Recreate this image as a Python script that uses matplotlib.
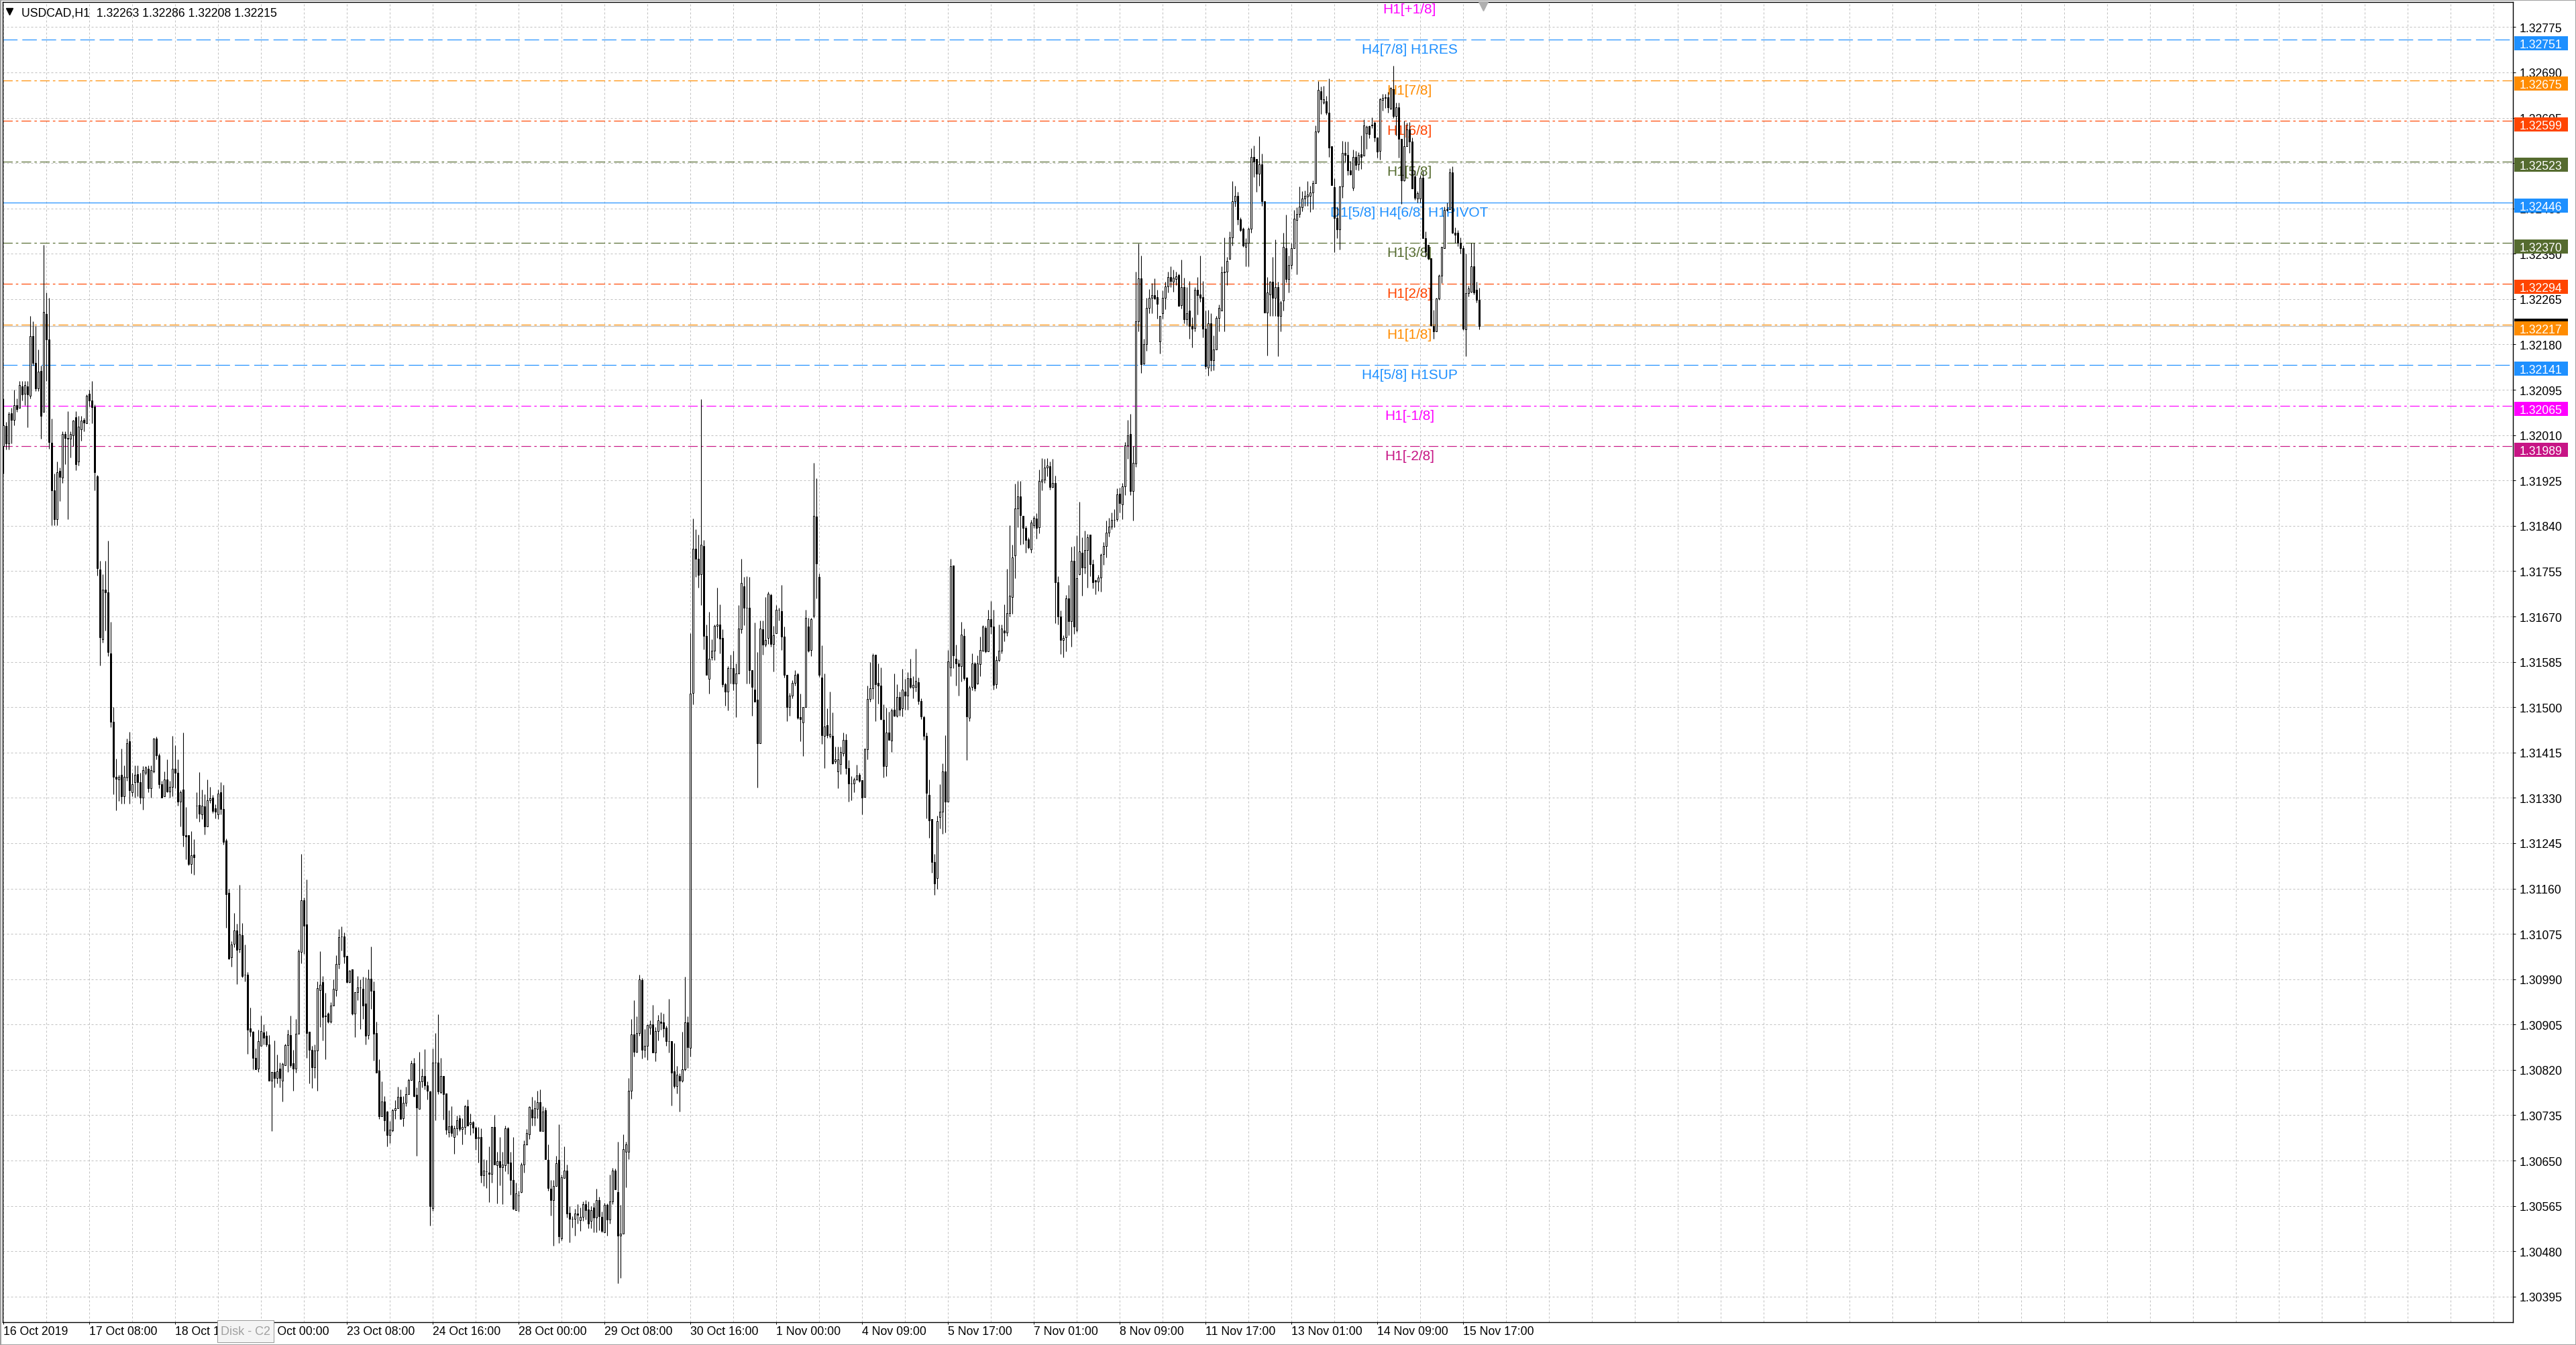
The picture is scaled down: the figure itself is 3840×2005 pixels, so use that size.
import numpy as np
import matplotlib
matplotlib.use("Agg")
import matplotlib.pyplot as plt
import matplotlib.transforms as mtransforms
from matplotlib.patches import Rectangle

plt.rcParams['font.family'] = ['Liberation Sans', 'DejaVu Sans']

symbol = "USDCAD,H1"
base = 1.30000   # candle values below are points (0.00001) above this

opens = [
    1989, 2027, 1994, 2051, 2039, 2066, 2061, 2102, 2088, 2102,
    2084, 2196, 2145, 2098, 2130, 2053, 2237, 2190, 1996, 1907,
    1852, 1943, 1930, 2012, 2004, 2003, 2010, 2043, 1960, 2021,
    2038, 2032, 2087, 2075, 2064, 1933, 1758, 1627, 1720, 1715,
    1601, 1472, 1369, 1364, 1373, 1333, 1368, 1436, 1341, 1359,
    1375, 1359, 1331, 1377, 1385, 1348, 1380, 1441, 1410, 1355,
    1333, 1364, 1342, 1351, 1384, 1377, 1323, 1346, 1260, 1260,
    1206, 1223, 1315, 1316, 1299, 1314, 1277, 1325, 1330, 1310,
    1299, 1341, 1309, 1250, 1152, 1031, 1056, 1082, 1046, 1073,
    998, 999, 898, 892, 842, 822, 865, 890, 884, 868,
    800, 816, 805, 822, 800, 829, 866, 885, 833, 822,
    888, 1041, 1138, 1093, 891, 858, 825, 856, 970, 985,
    920, 926, 910, 940, 970, 1018, 1070, 1070, 1034, 984,
    1009, 926, 966, 975, 972, 944, 885, 991, 968, 889,
    818, 733, 761, 742, 698, 707, 745, 748, 770, 729,
    758, 774, 801, 833, 773, 747, 799, 808, 791, 780,
    561, 834, 834, 778, 808, 776, 703, 716, 694, 710,
    729, 709, 713, 752, 718, 722, 712, 692, 694, 623,
    630, 628, 625, 713, 641, 649, 637, 641, 710, 646,
    613, 557, 585, 591, 642, 680, 699, 746, 731, 747,
    759, 705, 744, 651, 597, 576, 602, 651, 504, 618,
    631, 552, 541, 541, 551, 538, 545, 568, 558, 537,
    562, 543, 576, 545, 515, 567, 540, 574, 631, 591,
    509, 513, 667, 667, 781, 886, 854, 889, 989, 858,
    865, 899, 906, 852, 893, 911, 909, 899, 874, 874,
    817, 790, 809, 800, 821, 909, 861, 1527, 1797, 1778,
    1749, 1802, 1634, 1553, 1593, 1606, 1653, 1655, 1630, 1543,
    1529, 1573, 1573, 1544, 1563, 1646, 1726, 1686, 1686, 1569,
    1533, 1514, 1432, 1646, 1617, 1630, 1710, 1618, 1638, 1682,
    1680, 1632, 1561, 1500, 1521, 1545, 1562, 1482, 1471, 1500,
    1651, 1607, 1671, 1858, 1744, 1556, 1446, 1466, 1446, 1446,
    1399, 1379, 1393, 1413, 1439, 1386, 1357, 1357, 1365, 1373,
    1363, 1332, 1421, 1515, 1536, 1598, 1545, 1541, 1476, 1389,
    1452, 1437, 1495, 1484, 1519, 1498, 1529, 1522, 1554, 1537,
    1538, 1547, 1512, 1482, 1446, 1336, 1290, 1210, 1180, 1294,
    1304, 1379, 1323, 1574, 1766, 1591, 1582, 1577, 1634, 1556,
    1480, 1538, 1582, 1544, 1581, 1606, 1649, 1605, 1665, 1651,
    1543, 1588, 1606, 1644, 1640, 1676, 1707, 1784, 1873, 1895,
    1859, 1836, 1815, 1796, 1841, 1854, 1837, 1923, 1927, 1949,
    1952, 1913, 1920, 1734, 1670, 1626, 1631, 1704, 1661, 1774,
    1645, 1749, 1790, 1762, 1794, 1823, 1768, 1738, 1736, 1743,
    1787, 1802, 1827, 1838, 1851, 1852, 1900, 1880, 1914, 1991,
    2012, 1905, 1957, 2223, 2304, 2144, 2180, 2248, 2268, 2273,
    2269, 2186, 2239, 2267, 2289, 2307, 2298, 2303, 2310, 2254,
    2287, 2227, 2243, 2215, 2211, 2283, 2274, 2269, 2210, 2137,
    2219, 2151, 2170, 2230, 2244, 2317, 2317, 2340, 2380, 2449,
    2459, 2414, 2397, 2363, 2370, 2397, 2531, 2528, 2500, 2518,
    2449, 2240, 2274, 2297, 2268, 2287, 2234, 2262, 2361, 2303,
    2329, 2361, 2413, 2425, 2437, 2454, 2457, 2458, 2465, 2483,
    2579, 2655, 2633, 2636, 2615, 2551, 2475, 2417, 2396, 2476,
    2539, 2535, 2506, 2474, 2532, 2518, 2537, 2534, 2576, 2589,
    2592, 2595, 2568, 2543, 2639, 2642, 2644, 2622, 2658, 2608,
    2625, 2566, 2488, 2551, 2583, 2561, 2495, 2453, 2453, 2493,
    2379, 2367, 2341, 2215, 2205, 2266, 2309, 2360, 2432, 2434,
    2502, 2390, 2390, 2371, 2360, 2208, 2276, 2279, 2327, 2282,
    2263,
]

highs = [
    2079, 2035, 2053, 2061, 2095, 2079, 2112, 2111, 2111, 2111,
    2233, 2224, 2215, 2170, 2140, 2367, 2277, 2267, 2041, 1938,
    1960, 1949, 2017, 2017, 2055, 2017, 2039, 2055, 2046, 2046,
    2042, 2086, 2095, 2111, 2068, 1935, 1774, 1749, 1774, 1812,
    1660, 1500, 1403, 1373, 1422, 1391, 1441, 1454, 1377, 1391,
    1391, 1377, 1390, 1390, 1391, 1391, 1443, 1445, 1413, 1362,
    1380, 1402, 1362, 1446, 1428, 1402, 1344, 1452, 1313, 1260,
    1267, 1252, 1341, 1378, 1346, 1337, 1365, 1351, 1336, 1318,
    1346, 1359, 1354, 1254, 1160, 1061, 1114, 1094, 1167, 1095,
    1055, 1003, 937, 893, 860, 895, 922, 905, 893, 885,
    816, 875, 849, 834, 834, 869, 895, 922, 858, 916,
    1046, 1225, 1143, 1177, 891, 865, 868, 986, 1043, 996,
    964, 928, 947, 990, 1035, 1084, 1089, 1078, 1034, 1007,
    1009, 966, 996, 990, 995, 994, 1009, 1051, 986, 911,
    840, 799, 771, 743, 724, 747, 763, 788, 784, 771,
    788, 804, 838, 842, 787, 854, 822, 859, 798, 781,
    860, 889, 924, 843, 808, 776, 745, 752, 716, 734,
    736, 729, 755, 765, 738, 724, 714, 713, 710, 652,
    651, 677, 713, 735, 667, 694, 666, 716, 713, 666,
    694, 608, 594, 646, 688, 709, 752, 769, 763, 781,
    783, 752, 749, 680, 613, 613, 659, 718, 624, 677,
    643, 565, 546, 560, 568, 562, 574, 576, 574, 565,
    571, 597, 582, 554, 571, 569, 624, 636, 635, 685,
    567, 699, 685, 805, 915, 951, 921, 998, 992, 897,
    906, 913, 942, 900, 923, 928, 926, 903, 953, 874,
    870, 828, 814, 892, 995, 921, 1638, 1854, 1834, 1823,
    2078, 1813, 1655, 1679, 1627, 1655, 1724, 1693, 1646, 1545,
    1577, 1598, 1606, 1582, 1691, 1778, 1744, 1746, 1744, 1569,
    1659, 1603, 1662, 1663, 1706, 1717, 1713, 1653, 1691, 1686,
    1729, 1651, 1561, 1527, 1551, 1570, 1565, 1525, 1500, 1683,
    1667, 1667, 1958, 1929, 1750, 1616, 1563, 1498, 1529, 1490,
    1426, 1426, 1426, 1452, 1450, 1401, 1371, 1368, 1392, 1377,
    1363, 1424, 1540, 1585, 1601, 1598, 1582, 1574, 1505, 1499,
    1492, 1498, 1563, 1543, 1529, 1572, 1553, 1566, 1591, 1558,
    1610, 1556, 1516, 1484, 1453, 1365, 1290, 1225, 1296, 1356,
    1394, 1448, 1607, 1778, 1766, 1617, 1590, 1660, 1647, 1556,
    1540, 1601, 1585, 1597, 1632, 1654, 1652, 1683, 1699, 1683,
    1596, 1655, 1655, 1693, 1759, 1841, 1805, 1919, 1924, 1924,
    1859, 1840, 1818, 1851, 1859, 1864, 1945, 1967, 1966, 1967,
    1961, 1965, 1934, 1746, 1681, 1635, 1710, 1729, 1801, 1802,
    1822, 1885, 1819, 1831, 1825, 1823, 1777, 1739, 1748, 1788,
    1809, 1850, 1855, 1865, 1871, 1910, 1911, 1920, 1997, 2038,
    2050, 1990, 2317, 2369, 2347, 2191, 2267, 2284, 2295, 2304,
    2283, 2234, 2281, 2298, 2317, 2327, 2320, 2317, 2313, 2339,
    2305, 2287, 2299, 2231, 2288, 2307, 2346, 2299, 2243, 2245,
    2239, 2197, 2233, 2255, 2327, 2380, 2344, 2392, 2486, 2478,
    2466, 2418, 2399, 2379, 2399, 2548, 2553, 2528, 2571, 2538,
    2449, 2307, 2299, 2344, 2377, 2298, 2262, 2390, 2423, 2346,
    2370, 2432, 2437, 2476, 2467, 2469, 2486, 2478, 2488, 2591,
    2673, 2663, 2665, 2646, 2679, 2551, 2491, 2438, 2477, 2562,
    2560, 2561, 2524, 2545, 2543, 2540, 2572, 2602, 2591, 2590,
    2606, 2598, 2568, 2642, 2650, 2650, 2654, 2662, 2702, 2633,
    2633, 2566, 2600, 2595, 2597, 2568, 2506, 2467, 2497, 2505,
    2392, 2367, 2341, 2245, 2268, 2312, 2363, 2438, 2446, 2510,
    2514, 2400, 2394, 2380, 2366, 2350, 2290, 2371, 2371, 2297,
    2286,
]

lows = [
    1938, 1983, 1983, 1994, 2028, 2053, 2061, 2075, 2066, 2025,
    2079, 2140, 2093, 2093, 2003, 2053, 2112, 1985, 1841, 1841,
    1841, 1886, 1920, 1955, 1852, 1968, 1990, 1944, 1953, 1999,
    2017, 2032, 2064, 2032, 1906, 1747, 1578, 1621, 1644, 1596,
    1463, 1337, 1306, 1324, 1319, 1319, 1362, 1319, 1333, 1330,
    1333, 1319, 1308, 1373, 1341, 1330, 1377, 1402, 1348, 1330,
    1333, 1341, 1330, 1333, 1348, 1315, 1276, 1239, 1215, 1203,
    1188, 1186, 1291, 1285, 1290, 1261, 1277, 1320, 1301, 1292,
    1290, 1299, 1243, 1087, 1027, 1014, 1050, 981, 1040, 993,
    986, 850, 883, 821, 821, 816, 865, 868, 864, 800,
    705, 787, 795, 787, 761, 829, 816, 825, 781, 815,
    888, 1020, 1037, 842, 795, 786, 805, 781, 900, 875,
    840, 908, 908, 940, 958, 1010, 1044, 1020, 983, 983,
    923, 882, 951, 896, 915, 868, 878, 934, 837, 815,
    728, 733, 705, 677, 683, 704, 728, 748, 728, 714,
    752, 774, 801, 770, 659, 747, 787, 784, 764, 528,
    556, 725, 774, 776, 727, 699, 694, 695, 663, 698,
    705, 680, 699, 716, 698, 702, 670, 646, 608, 602,
    599, 572, 608, 642, 569, 604, 568, 630, 625, 586,
    558, 557, 554, 590, 627, 679, 690, 716, 716, 729,
    705, 705, 652, 593, 547, 490, 602, 495, 501, 618,
    543, 497, 524, 509, 532, 518, 537, 540, 523, 523,
    515, 515, 519, 515, 515, 509, 532, 568, 596, 420,
    430, 513, 600, 652, 766, 845, 853, 884, 841, 844,
    839, 886, 852, 836, 875, 895, 882, 865, 853, 753,
    786, 776, 742, 797, 819, 824, 845, 1505, 1744, 1724,
    1691, 1609, 1560, 1526, 1588, 1588, 1630, 1601, 1538, 1503,
    1494, 1544, 1532, 1482, 1563, 1638, 1654, 1544, 1544, 1484,
    1510, 1349, 1432, 1598, 1614, 1619, 1614, 1567, 1638, 1662,
    1607, 1556, 1474, 1484, 1517, 1540, 1478, 1436, 1408, 1500,
    1603, 1596, 1667, 1704, 1557, 1431, 1386, 1442, 1442, 1393,
    1394, 1348, 1374, 1408, 1374, 1323, 1326, 1341, 1363, 1360,
    1299, 1332, 1402, 1510, 1515, 1474, 1506, 1476, 1368, 1371,
    1438, 1416, 1483, 1482, 1484, 1483, 1495, 1495, 1535, 1517,
    1529, 1505, 1477, 1439, 1291, 1255, 1190, 1148, 1160, 1273,
    1262, 1265, 1323, 1558, 1573, 1540, 1521, 1548, 1551, 1401,
    1474, 1532, 1531, 1543, 1558, 1604, 1602, 1605, 1637, 1533,
    1536, 1586, 1601, 1623, 1634, 1670, 1675, 1742, 1837, 1804,
    1806, 1790, 1797, 1790, 1836, 1816, 1826, 1907, 1920, 1933,
    1908, 1912, 1658, 1655, 1599, 1593, 1605, 1635, 1614, 1637,
    1641, 1748, 1709, 1750, 1724, 1746, 1723, 1711, 1718, 1717,
    1767, 1781, 1820, 1833, 1837, 1848, 1865, 1852, 1898, 1966,
    1898, 1850, 1950, 2204, 2126, 2143, 2168, 2238, 2238, 2265,
    2228, 2163, 2228, 2246, 2278, 2288, 2279, 2291, 2252, 2247,
    2219, 2216, 2191, 2174, 2204, 2236, 2260, 2193, 2134, 2122,
    2130, 2132, 2170, 2204, 2244, 2204, 2291, 2340, 2365, 2438,
    2404, 2392, 2363, 2327, 2327, 2389, 2494, 2466, 2477, 2440,
    2240, 2159, 2233, 2233, 2233, 2158, 2204, 2244, 2296, 2278,
    2322, 2361, 2312, 2418, 2429, 2440, 2440, 2428, 2433, 2482,
    2577, 2612, 2631, 2611, 2531, 2479, 2353, 2379, 2358, 2455,
    2522, 2498, 2497, 2468, 2507, 2506, 2509, 2534, 2546, 2567,
    2585, 2561, 2530, 2527, 2618, 2623, 2614, 2621, 2605, 2572,
    2530, 2444, 2486, 2551, 2539, 2472, 2451, 2446, 2446, 2379,
    2344, 2339, 2214, 2191, 2205, 2264, 2295, 2360, 2430, 2433,
    2388, 2370, 2364, 2350, 2207, 2158, 2270, 2278, 2274, 2258,
    2208,
]

closes = [
    2028, 1994, 2050, 2039, 2066, 2059, 2104, 2086, 2104, 2086,
    2196, 2145, 2097, 2129, 2046, 2241, 2189, 1997, 1906, 1852,
    1940, 1931, 2012, 2004, 2003, 2012, 2037, 1956, 2026, 2037,
    2033, 2084, 2075, 2062, 1940, 1760, 1631, 1720, 1715, 1603,
    1472, 1369, 1366, 1369, 1333, 1369, 1432, 1344, 1356, 1373,
    1359, 1331, 1382, 1387, 1348, 1382, 1441, 1410, 1355, 1331,
    1364, 1342, 1351, 1385, 1377, 1323, 1341, 1260, 1258, 1206,
    1222, 1219, 1315, 1300, 1315, 1277, 1326, 1329, 1305, 1304,
    1338, 1309, 1248, 1149, 1029, 1055, 1082, 1045, 1074, 996,
    999, 895, 892, 842, 821, 874, 893, 880, 868, 800,
    816, 805, 817, 805, 831, 866, 886, 829, 822, 888,
    1042, 1138, 1090, 889, 858, 825, 856, 973, 980, 919,
    922, 910, 940, 972, 1018, 1069, 1070, 1033, 984, 1006,
    926, 966, 975, 975, 941, 884, 991, 968, 888, 815,
    733, 761, 726, 698, 708, 745, 748, 769, 728, 758,
    774, 801, 833, 771, 750, 799, 808, 791, 781, 565,
    834, 834, 780, 809, 775, 708, 714, 702, 710, 726,
    709, 713, 752, 716, 722, 712, 692, 694, 623, 631,
    630, 625, 713, 642, 649, 638, 642, 710, 645, 613,
    560, 588, 585, 642, 680, 702, 751, 730, 748, 759,
    705, 742, 652, 599, 576, 602, 645, 508, 619, 631,
    551, 541, 541, 551, 548, 545, 568, 557, 532, 557,
    543, 576, 546, 518, 567, 539, 574, 631, 596, 509,
    513, 671, 680, 781, 886, 854, 889, 990, 858, 865,
    904, 906, 852, 893, 913, 908, 898, 874, 874, 815,
    790, 811, 800, 821, 909, 863, 1525, 1797, 1778, 1748,
    1804, 1634, 1560, 1591, 1606, 1653, 1655, 1628, 1543, 1529,
    1573, 1573, 1544, 1563, 1647, 1733, 1686, 1686, 1570, 1538,
    1510, 1432, 1647, 1617, 1626, 1713, 1618, 1635, 1682, 1682,
    1632, 1560, 1500, 1521, 1545, 1561, 1480, 1477, 1500, 1667,
    1606, 1665, 1859, 1769, 1560, 1447, 1464, 1447, 1450, 1394,
    1402, 1402, 1416, 1439, 1386, 1357, 1357, 1364, 1372, 1362,
    1330, 1421, 1515, 1536, 1597, 1543, 1540, 1478, 1390, 1452,
    1439, 1494, 1484, 1519, 1495, 1533, 1521, 1554, 1538, 1542,
    1549, 1512, 1483, 1446, 1339, 1288, 1210, 1170, 1287, 1304,
    1379, 1323, 1586, 1764, 1597, 1582, 1577, 1636, 1554, 1483,
    1537, 1582, 1536, 1582, 1607, 1651, 1605, 1665, 1651, 1542,
    1588, 1606, 1647, 1640, 1676, 1709, 1781, 1873, 1895, 1860,
    1836, 1813, 1799, 1846, 1855, 1836, 1924, 1927, 1949, 1953,
    1913, 1920, 1734, 1670, 1626, 1630, 1704, 1661, 1774, 1651,
    1742, 1792, 1762, 1795, 1819, 1768, 1734, 1735, 1743, 1786,
    1802, 1827, 1838, 1851, 1851, 1899, 1882, 1914, 1991, 2010,
    1905, 1958, 2223, 2304, 2143, 2181, 2248, 2268, 2272, 2266,
    2256, 2234, 2267, 2289, 2307, 2299, 2305, 2308, 2252, 2287,
    2227, 2238, 2214, 2210, 2282, 2272, 2268, 2210, 2139, 2219,
    2151, 2170, 2230, 2248, 2315, 2315, 2337, 2380, 2449, 2458,
    2414, 2395, 2365, 2371, 2397, 2531, 2523, 2500, 2518, 2449,
    2240, 2277, 2297, 2268, 2287, 2234, 2258, 2363, 2303, 2329,
    2361, 2416, 2425, 2438, 2454, 2458, 2461, 2465, 2482, 2579,
    2657, 2640, 2640, 2615, 2549, 2479, 2417, 2396, 2476, 2539,
    2535, 2506, 2499, 2532, 2516, 2535, 2531, 2590, 2588, 2574,
    2590, 2568, 2542, 2640, 2642, 2644, 2625, 2661, 2608, 2625,
    2566, 2488, 2551, 2583, 2561, 2472, 2455, 2463, 2493, 2379,
    2354, 2341, 2216, 2204, 2266, 2309, 2363, 2432, 2434, 2503,
    2390, 2385, 2371, 2360, 2209, 2276, 2285, 2327, 2277, 2263,
    2215,
]

# one time label every 32 bars
date_labels = ["16 Oct 2019", "17 Oct 08:00", "18 Oct 16:00", "22 Oct 00:00",
               "23 Oct 08:00", "24 Oct 16:00", "28 Oct 00:00", "29 Oct 08:00",
               "30 Oct 16:00", "1 Nov 00:00", "4 Nov 09:00", "5 Nov 17:00",
               "7 Nov 01:00", "8 Nov 09:00", "11 Nov 17:00", "13 Nov 01:00",
               "14 Nov 09:00", "15 Nov 17:00"]
label_step = 32
grid_step = 16

# Murrey math levels drawn by the indicator
level_prices = [1.32827, 1.32751, 1.32675, 1.32599, 1.32523, 1.32446,
                1.32370, 1.32294, 1.32217, 1.32141, 1.32065, 1.31989]
level_names = ["H1[+1/8]", "H4[7/8] H1RES", "H1[7/8]", "H1[6/8]", "H1[5/8]",
               "D1[5/8] H4[6/8] H1PIVOT", "H1[3/8]", "H1[2/8]", "H1[1/8]",
               "H4[5/8] H1SUP", "H1[-1/8]", "H1[-2/8]"]
level_colors = ["#FF00FF", "#1E90FF", "#FF8C00", "#FF4500", "#556B2F", "#1E90FF",
                "#556B2F", "#FF4500", "#FF8C00", "#1E90FF", "#FF00FF", "#C71585"]
level_styles = ["dashdot", "dash", "dashdot", "dashdot", "dashdot", "solid",
                "dashdot", "dashdot", "dashdot", "dash", "dashdot", "dashdot"]

n = len(closes)
assert len(opens) == n and len(highs) == n and len(lows) == n, (len(opens), len(highs), len(lows), n)

o = base + np.array(opens) / 1e5
h = base + np.array(highs) / 1e5
l = base + np.array(lows) / 1e5
c = base + np.array(closes) / 1e5
x = np.arange(n)
bid = c[-1]

W, H = 3840, 2006
PX = 72 / 100          # one pixel in points at dpi 100
ax_l, ax_r, ax_t, ax_b = 4, 3746, 4, 1972
axw, axh = ax_r - ax_l, ax_b - ax_t

fig = plt.figure(figsize=(W / 100, H / 100), dpi=100)
fig.patch.set_facecolor("white")
ax = fig.add_axes([ax_l / W, 1 - ax_b / H, axw / W, axh / H])

ymin, ymax = 1.30347, 1.32822
ax.set_xlim(-0.25, 935.25)
ax.set_ylim(ymin, ymax)
dy = (ymax - ymin) / axh   # price per pixel

# axes, ticks, grid
yticks = np.round(1.30395 + 0.00085 * np.arange(29), 5)
ax.set_yticks(yticks)
ax.set_yticklabels([f"{v:.5f}" for v in yticks])
ax.yaxis.tick_right()
ax.tick_params(axis="y", direction="out", length=4 * PX, width=PX,
               pad=6 * PX, labelsize=12.7)

ax.set_xticks(np.arange(len(date_labels)) * label_step)
ax.set_xticklabels(date_labels, ha="left")
ax.set_xticks(np.arange(0, 936, grid_step), minor=True)
ax.tick_params(axis="x", which="major", direction="out", length=3 * PX,
               width=PX, pad=2.5 * PX, labelsize=12.7)
ax.tick_params(axis="x", which="minor", length=0)

grid_kw = dict(color="#C0C0C0", lw=PX, ls=(0, (3, 3)))
ax.grid(True, axis="y", which="major", **grid_kw)
ax.grid(True, axis="x", which="both", **grid_kw)
ax.set_axisbelow(True)
for sp in ax.spines.values():
    sp.set_linewidth(1.4 * PX)
    sp.set_color("black")

# level lines + labels
styles = {"dash": (0, (18, 6)), "dashdot": (0, (12, 4, 3, 4)), "solid": "-"}
label_bar = 524
for p, name, col, st in zip(level_prices, level_names, level_colors, level_styles):
    ax.axhline(p, color=col, lw=1.2 * PX, ls=styles[st], zorder=1)
    ax.annotate(name, xy=(label_bar, p), xytext=(0, -20 * PX),
                textcoords="offset points", ha="center", va="baseline",
                fontsize=15, color=col, zorder=2, annotation_clip=False)

ax.axhline(bid, color="#C0C0C0", lw=1.3 * PX, zorder=1)

# candles
ax.vlines(x, l, h, colors="black", lw=1.1 * PX, zorder=3)
bull = c >= o
ax.bar(x, np.abs(c - o), bottom=np.minimum(o, c), width=0.5,
       color=np.where(bull, "white", "black"), edgecolor="black",
       linewidth=PX, zorder=4)

# price tags on the axis
blend = mtransforms.blended_transform_factory(ax.transAxes, ax.transData)
ax.add_patch(Rectangle((1 + 2 / axw, bid - 10.5 * dy), 80 / axw, 21 * dy,
                       transform=blend, fc="black", ec="none",
                       clip_on=False, zorder=5.5))
for p, col in zip(level_prices, level_colors):
    if not (ymin < p < ymax):
        continue
    yc = p - 5 * dy
    ax.add_patch(Rectangle((1 + 2 / axw, yc - 10.5 * dy), 80 / axw, 21 * dy,
                           transform=blend, fc=col, ec="none",
                           clip_on=False, zorder=6))
    ax.text(1 + 10 / axw, yc, f"{p:.5f}", transform=blend, color="white",
            fontsize=12.7, ha="left", va="center_baseline", zorder=7,
            clip_on=False)

# chart shift marker
blend2 = mtransforms.blended_transform_factory(ax.transData, ax.transAxes)
ax.plot([n + 0.5], [0.9972], marker="v", ms=10, color="#B0B0B0",
        transform=blend2, clip_on=False, zorder=8)

# title line
ax.plot([(14 - ax_l) / axw], [(ax_b - 18) / axh], marker="v", ms=7,
        color="black", transform=ax.transAxes, clip_on=False, zorder=8)
ax.text((32 - ax_l) / axw, (ax_b - 20) / axh,
        f"{symbol}  {o[-1]:.5f} {h[-1]:.5f} {l[-1]:.5f} {c[-1]:.5f}",
        transform=ax.transAxes, ha="left", va="center", fontsize=12.7,
        zorder=8)

# window frame and the tooltip left over in the screenshot
fig.patches.append(Rectangle((0, 0), 1, 1, transform=fig.transFigure,
                             fill=False, ec="#A0A0A0", lw=3 * PX))
fig.patches.append(Rectangle((324 / W, 1 - 2002 / H), 84 / W, 33 / H,
                             transform=fig.transFigure, fc="#F4F4F4",
                             ec="#9A9A9A", lw=PX))
fig.text(366 / W, 1 - 1986 / H, "Disk - C2", ha="center", va="center",
         fontsize=13, color="#A0A0A0")

fig.savefig("out.png", dpi=100)
